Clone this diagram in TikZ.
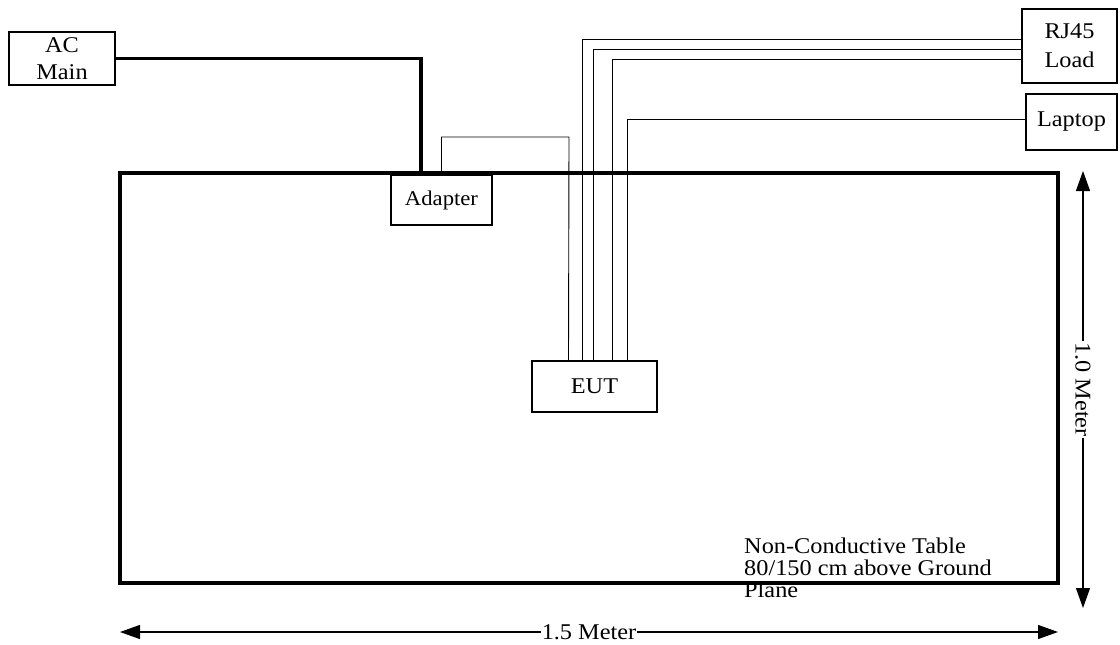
\documentclass[tikz,border=0pt]{standalone}
\usepackage{fontspec}
\setmainfont{Liberation Serif}[FakeStretch=1.08]
\usetikzlibrary{arrows.meta}
\begin{document}
\begin{tikzpicture}[x=1pt,y=-1pt,
  every node/.style={font=\fontsize{22.5}{22}\selectfont, inner sep=0pt},
  boxnode/.style={draw, line width=1.3pt, align=center},
  wire/.style={line width=0.9pt},
  power/.style={line width=3.2pt},
  dim/.style={line width=1.2pt, {Triangle[length=20pt,width=14pt]}-{Triangle[length=20pt,width=14pt]}},
  lbl/.style={fill=white, inner sep=1pt}]
\useasboundingbox (0,0) rectangle (1120,645);
% table
\node[draw, line width=3.2pt, minimum width=938pt, minimum height=410pt] (tbl) at (589,378) {};
% boxes
\node[boxnode, fill=white, minimum width=106pt, minimum height=53pt] (ac) at (62,58.5) {AC\\[5pt]Main};
\node[boxnode, fill=white, minimum width=101pt, minimum height=50pt, font=\fontsize{21}{22}\selectfont] (adapter) at (441.5,200) {Adapter};
\node[boxnode, fill=white, minimum width=125pt, minimum height=51pt] (eut) at (594.5,386.5) {EUT};
\node[boxnode, minimum width=95pt, minimum height=74pt] (rj45) at (1069.5,46) {RJ45\\[7pt]Load};
\node[boxnode, minimum width=91pt, minimum height=56pt] (laptop) at (1071.5,122) {Laptop};
% text
\node[anchor=north west, align=left] (note) at (744,538) {Non-Conductive Table\\80/150 cm above Ground\\Plane};
% coordinates
\coordinate (acin) at (421,173);
\coordinate (adtop) at (569,137);
% AC power
\draw[power] (ac.east) -| (acin);
% adapter to EUT
\draw[wire] (adapter.north) |- (adtop) -- ([xshift=-26pt]eut.north);
% RJ45 lines
\draw[wire] ([xshift=-12.5pt]eut.north) |- ([yshift=7pt]rj45.west);
\draw[wire] ([xshift=-1pt]eut.north) |- ([yshift=-3pt]rj45.west);
\draw[wire] ([xshift=17.5pt]eut.north) |- ([yshift=-13pt]rj45.west);
% laptop line
\draw[wire] ([xshift=32.5pt]eut.north) |- ([yshift=3pt]laptop.west);
% dimensions
\coordinate (hl) at (120,632);
\coordinate (hr) at (1058,632);
\coordinate (vt) at (1083,171);
\coordinate (vb) at (1083,608);
\draw[dim] (hl) -- node[lbl] (hlab) {1.5 Meter} (hr);
\draw[dim] (vt) -- node[lbl, rotate=-90] (vlab) {1.0 Meter} (vb);
\end{tikzpicture}
\end{document}
